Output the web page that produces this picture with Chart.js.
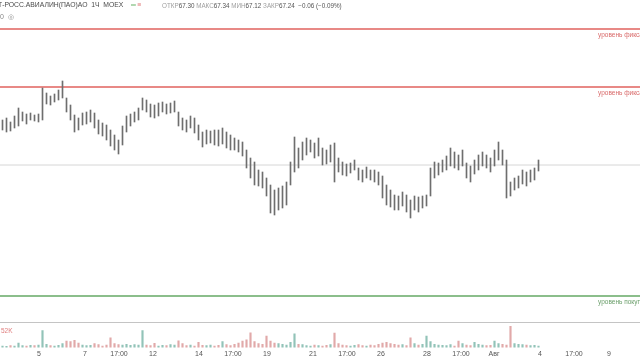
<!DOCTYPE html>
<html>
<head>
<meta charset="utf-8">
<script src="https://cdn.jsdelivr.net/npm/chart.js@4.4.0/dist/chart.umd.min.js"></script>
<style>
  html, body { margin: 0; padding: 0; background: #fff; }
  #wrap { position: relative; width: 640px; height: 360px; overflow: hidden; font-family: "Liberation Sans", Arial, sans-serif; }
  #priceCanvas { position: absolute; left: 0; top: 0; }
  #volCanvas { position: absolute; left: 0; top: 323px; }
  #sep { position: absolute; left: 0; top: 322px; width: 640px; height: 1px; background: #c4c4c4; }
  .txt { position: absolute; white-space: nowrap; }
  #title { left: -2px; top: 1px; font-size: 6.8px; color: #4a4a4a; }
  #ohlc { left: 162px; top: 2px; font-size: 6.3px; color: #555; }
  #ohlc b { font-weight: normal; color: #a0a0a0; }
  #sub { left: 0px; top: 13px; font-size: 7px; color: #888; }
  .lvl { font-size: 6.5px; left: 598px; }
  #vlab { left: 1px; top: 327px; font-size: 6.5px; color: #e07f7f; }
</style>
</head>
<body>
<div id="wrap">
  <canvas id="priceCanvas" width="640" height="322"></canvas>
  <div id="sep"></div>
  <canvas id="volCanvas" width="640" height="37"></canvas>
  <div class="txt" id="title">Т-РОСС.АВИАЛИН(ПАО)АО &nbsp;1Ч &nbsp;MOEX &nbsp;&nbsp;&nbsp;<span style="color:#6cb56c">═</span> <span style="color:#e07b7b">≡</span></div>
  <div class="txt" id="ohlc"><b>ОТКР</b>67.30 <b>МАКС</b>67.34 <b>МИН</b>67.12 <b>ЗАКР</b>67.24 &nbsp;−0.06 (−0.09%)</div>
  <div class="txt" id="sub">0 &nbsp;◎</div>
  <div class="txt lvl" style="top:31px;color:#d96a6a">уровень фиксации прибыли</div>
  <div class="txt lvl" style="top:89px;color:#d96a6a">уровень фиксации прибыли</div>
  <div class="txt lvl" style="top:298px;color:#6a9e6a">уровень покупки</div>
  <div class="txt" id="vlab">52K</div>
</div>
<script>
// hourly bars, one entry per bar (price range high/low)
const barHigh = [
  68.14, 68.18, 68.10, 68.22, 68.38, 68.30, 68.26, 68.28, 68.24, 68.26,
  68.78, 68.68, 68.62, 68.66, 68.74, 68.92, 68.58, 68.44, 68.24, 68.18,
  68.28, 68.30, 68.34, 68.28, 68.14, 68.08, 68.04, 67.94, 67.84, 67.74,
  68.02, 68.22, 68.26, 68.30, 68.38, 68.58, 68.54, 68.46, 68.44, 68.48,
  68.50, 68.46, 68.48, 68.52, 68.30, 68.18, 68.14, 68.22, 68.18, 68.04,
  67.90, 67.94, 67.92, 67.94, 67.94, 67.98, 67.90, 67.84, 67.78, 67.74,
  67.70, 67.54, 67.38, 67.30, 67.14, 67.10, 66.98, 66.84, 66.74, 66.78,
  66.82, 66.90, 67.30, 67.80, 67.58, 67.70, 67.78, 67.74, 67.68, 67.78,
  67.58, 67.54, 67.64, 67.68, 67.38, 67.30, 67.26, 67.28, 67.34, 67.18,
  67.14, 67.20, 67.14, 67.14, 67.10, 67.02, 66.84, 66.74, 66.64, 66.62,
  66.70, 66.64, 66.54, 66.62, 66.60, 66.62, 66.64, 67.18, 67.30, 67.28,
  67.34, 67.42, 67.58, 67.50, 67.44, 67.54, 67.28, 67.22, 67.34, 67.44,
  67.50, 67.44, 67.38, 67.54, 67.70, 67.54, 67.34, 66.90, 66.98, 67.02,
  67.14, 67.10, 67.14, 67.18, 67.34
];
const barLow = [
  67.94, 67.90, 67.92, 67.98, 68.02, 68.12, 68.06, 68.14, 68.12, 68.10,
  68.14, 68.46, 68.44, 68.50, 68.54, 68.58, 68.30, 68.14, 67.90, 67.94,
  68.04, 68.06, 68.10, 67.98, 67.86, 67.82, 67.74, 67.62, 67.54, 67.46,
  67.64, 67.90, 68.02, 68.10, 68.14, 68.34, 68.30, 68.20, 68.18, 68.22,
  68.30, 68.26, 68.28, 68.30, 68.02, 67.94, 67.90, 67.98, 67.88, 67.74,
  67.60, 67.66, 67.68, 67.64, 67.62, 67.66, 67.58, 67.54, 67.54, 67.50,
  67.42, 67.18, 66.98, 66.84, 66.82, 66.78, 66.62, 66.28, 66.24, 66.34,
  66.38, 66.44, 66.84, 67.10, 67.18, 67.34, 67.44, 67.50, 67.38, 67.42,
  67.24, 67.26, 67.30, 66.90, 67.10, 67.04, 67.02, 67.08, 67.14, 66.94,
  66.90, 66.98, 66.94, 66.90, 66.84, 66.58, 66.44, 66.40, 66.34, 66.34,
  66.42, 66.30, 66.18, 66.34, 66.30, 66.38, 66.42, 66.62, 66.98, 67.04,
  67.10, 67.14, 67.22, 67.18, 67.14, 67.22, 66.98, 66.90, 67.06, 67.14,
  67.22, 67.18, 67.10, 67.22, 67.34, 67.24, 66.58, 66.62, 66.74, 66.78,
  66.86, 66.82, 66.90, 66.94, 67.12
];
// volume, thousands
const barVolume = [
  5, 4, 6, 5, 14, 6, 5, 7, 6, 8,
  52, 10, 6, 5, 7, 12, 20, 18, 22, 14,
  8, 6, 7, 12, 9, 5, 8, 30, 12, 9,
  8, 10, 7, 9, 8, 52, 8, 6, 13, 5,
  7, 6, 9, 8, 21, 12, 6, 8, 5, 16,
  7, 6, 8, 5, 7, 18, 9, 6, 10, 14,
  20, 24, 45, 18, 12, 10, 35, 20, 14, 12,
  10, 8, 16, 42, 10, 9, 6, 5, 8, 6,
  5, 7, 9, 44, 12, 8, 6, 5, 7, 9,
  6, 5, 8, 6, 10, 14, 16, 12, 10, 8,
  9, 6, 30, 12, 8, 10, 35, 18, 10, 8,
  7, 6, 9, 5, 20, 12, 8, 6, 16, 10,
  8, 6, 7, 20, 12, 10, 8, 65, 12, 10,
  9, 8, 6, 7, 5
];

// horizontal levels
const takeProfitHigh = 69.96;
const takeProfitLow = 68.80;
const lastPrice = 67.24;
const buyLevel = 64.62;

// time axis labels (position in bars)
const tickPos = [9.125, 20.625, 29.125, 37.625, 49.125, 57.625, 66.125, 77.625, 86.125, 94.625, 106.125, 114.625, 122.875, 134.375, 142.875, 151.625];
const tickText = ['5', '7', '17:00', '12', '14', '17:00', '19', '21', '17:00', '26', '28', '17:00', 'Авг', '4', '17:00', '9'];

const xMin = -0.625, xMax = 159.375;

function levelLine(value, color, width) {
  return {
    type: 'line',
    data: [{ x: xMin, y: value }, { x: xMax, y: value }],
    borderColor: color,
    borderWidth: width,
    pointRadius: 0,
    order: 5
  };
}

const priceBars = barHigh.map((h, i) => ({ x: i, y: [barLow[i], h] }));

new Chart(document.getElementById('priceCanvas').getContext('2d'), {
  type: 'bar',
  data: {
    datasets: [
      {
        data: priceBars,
        backgroundColor: '#6e6e6e',
        barThickness: 1,
        order: 1
      },
      levelLine(takeProfitHigh, '#e0625e', 1.5),
      levelLine(takeProfitLow, '#e0625e', 1.5),
      levelLine(lastPrice, '#d6d6d6', 1),
      levelLine(buyLevel, '#64a864', 1.5)
    ]
  },
  options: {
    responsive: false,
    animation: false,
    layout: { padding: 0 },
    plugins: { legend: { display: false }, tooltip: { enabled: false } },
    scales: {
      x: { type: 'linear', min: xMin, max: xMax, offset: false, display: false },
      y: { min: 64.10, max: 70.54, display: false }
    }
  }
});

const volColors = barVolume.map((v, i) => {
  const mid = (barHigh[i] + barLow[i]) / 2;
  const prev = i > 0 ? (barHigh[i - 1] + barLow[i - 1]) / 2 : mid;
  return mid >= prev ? 'rgba(110,175,160,0.75)' : 'rgba(215,140,140,0.75)';
});

new Chart(document.getElementById('volCanvas').getContext('2d'), {
  type: 'bar',
  data: {
    datasets: [{
      data: barVolume.map((v, i) => ({ x: i, y: v })),
      backgroundColor: volColors,
      barThickness: 1.5
    }]
  },
  options: {
    responsive: false,
    animation: false,
    layout: { padding: 0 },
    plugins: { legend: { display: false }, tooltip: { enabled: false } },
    scales: {
      x: {
        type: 'linear', min: xMin, max: xMax, offset: false,
        grid: { display: false, drawTicks: false },
        border: { display: false },
        afterBuildTicks: axis => { axis.ticks = tickPos.map(v => ({ value: v })); },
        ticks: {
          autoSkip: false, maxRotation: 0, padding: 2,
          color: '#555', font: { size: 7, family: 'Liberation Sans' },
          callback: (val, idx) => tickText[idx]
        }
      },
      y: { min: 0, max: 75, display: false }
    }
  }
});
</script>
</body>
</html>
